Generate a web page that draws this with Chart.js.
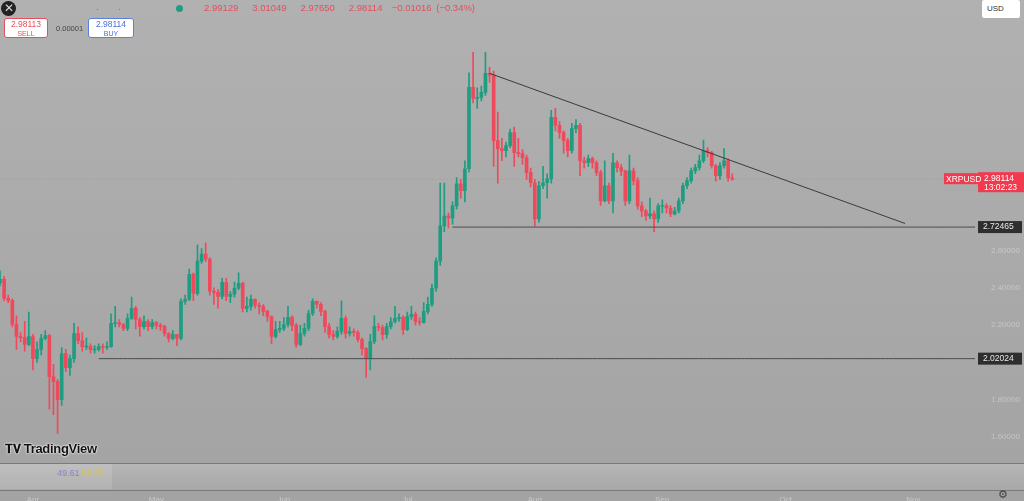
<!DOCTYPE html>
<html><head><meta charset="utf-8">
<script src="https://cdn.jsdelivr.net/npm/chart.js@4"></script>
<style>
html,body{margin:0;padding:0;width:1024px;height:501px;overflow:hidden;font-family:"Liberation Sans",Arial,sans-serif}
body{background:linear-gradient(#b1b1b1,#a3a3a3)}
#wrap{position:absolute;left:0;top:0;width:1024px;height:501px}
.ov{position:absolute;white-space:nowrap}
</style></head><body>
<div id="wrap"><canvas id="c" width="1024" height="501"></canvas></div>
<div class="ov" style="left:1px;top:1px;width:15px;height:15px;border-radius:50%;background:#222;color:#ddd;font-size:12px;line-height:15px;text-align:center">✕</div>
<div class="ov" style="left:176px;top:5px;width:7px;height:7px;border-radius:50%;background:#1e9d81"></div>
<div class="ov" style="left:96px;top:4px;color:#777;font-size:9px">·</div>
<div class="ov" style="left:118px;top:4px;color:#777;font-size:9px">·</div>
<div class="ov" style="left:204px;top:2px;color:#e84d5d;font-size:9.5px;word-spacing:2px">2.99129&nbsp;&nbsp;&nbsp;3.01049&nbsp;&nbsp;&nbsp;2.97650&nbsp;&nbsp;&nbsp;2.98114&nbsp;&nbsp;−0.01016 (−0.34%)</div>
<div class="ov" style="left:4px;top:18px;width:44px;height:20px;border:1px solid #e84d5d;border-radius:3px;background:#fff;text-align:center;line-height:9px;font-size:8.5px;color:#e84d5d;padding-top:1px;box-sizing:border-box">2.98113<br><span style="font-size:7px">SELL</span></div>
<div class="ov" style="left:56px;top:24px;color:#444;font-size:7.5px">0.00001</div>
<div class="ov" style="left:88px;top:18px;width:46px;height:20px;border:1px solid #5b7fe0;border-radius:3px;background:#fff;text-align:center;line-height:9px;font-size:8.5px;color:#4a6fd8;padding-top:1px;box-sizing:border-box">2.98114<br><span style="font-size:7px">BUY</span></div>
<div class="ov" style="left:982px;top:0px;width:38px;height:18px;background:#fff;border-radius:2px;font-size:8px;color:#333;line-height:18px;padding-left:5px;box-sizing:border-box">USD</div>
<div class="ov" style="left:5px;top:441px;font-size:13px;font-weight:bold;color:#111;letter-spacing:-0.3px;text-shadow:0 0 2px #fff,0 0 2px #fff"><span style="font-size:12px">𝐓𝐕</span> TradingView</div>
<div class="ov" style="left:0;top:463px;width:1024px;height:26px;background:linear-gradient(#b6b6b6,#a8a8a8);border-top:1px solid #7a7a7a;border-bottom:1px solid #7a7a7a"></div>
<div class="ov" style="left:0;top:464px;width:112px;height:25px;background:rgba(255,255,255,0.12)"></div>
<div class="ov" style="left:57px;top:468px;font-size:9px;color:#8a86c8">49.61 <span style="color:#d8c45a">54.09</span></div>
<div class="ov" style="left:998px;top:488px;font-size:11px;color:#444">⚙</div>
<script>
const categoriesCount = 238;
const monthTicks = {8:'Apr',38:'May',69:'Jun',99:'Jul',130:'Aug',161:'Sep',191:'Oct',222:'Nov'};
const firstOpen = 2.424;
const closes = [2.445,2.343,2.332,2.203,2.139,2.133,2.096,2.139,2.020,2.069,2.128,2.144,1.924,1.897,1.800,2.047,1.972,2.020,2.155,2.117,
2.085,2.085,2.069,2.069,2.085,2.080,2.085,2.209,2.214,2.203,2.182,2.236,2.289,2.230,2.192,2.219,2.192,2.214,2.198,2.192,
2.155,2.128,2.149,2.128,2.327,2.338,2.472,2.370,2.542,2.580,2.553,2.381,2.375,2.354,2.429,2.354,2.365,2.397,2.424,2.289,
2.300,2.338,2.306,2.300,2.273,2.246,2.139,2.176,2.182,2.203,2.241,2.198,2.096,2.155,2.182,2.262,2.327,2.311,2.273,2.192,
2.149,2.139,2.166,2.236,2.155,2.166,2.160,2.123,2.074,2.020,2.112,2.192,2.187,2.149,2.192,2.219,2.236,2.241,2.176,2.246,
2.257,2.219,2.214,2.273,2.311,2.397,2.542,2.731,2.784,2.774,2.838,2.956,2.919,3.037,3.473,3.414,3.419,3.446,3.548,3.538,
3.188,3.145,3.134,3.161,3.231,3.123,3.118,3.096,3.016,2.962,2.768,2.946,2.962,2.983,3.312,3.269,3.231,3.188,3.134,3.252,
3.269,3.080,3.069,3.091,3.069,3.016,2.865,2.946,2.865,3.069,3.043,3.026,2.865,3.026,2.973,2.838,2.811,2.784,2.795,2.768,
2.838,2.838,2.827,2.795,2.811,2.865,2.946,2.973,3.026,3.043,3.080,3.134,3.123,3.053,3.000,3.053,3.080,2.989,2.981];
const highs = [2.49,2.46,2.36,2.34,2.25,2.16,2.22,2.27,2.15,2.11,2.15,2.17,2.15,1.99,1.91,2.08,2.07,2.04,2.21,2.19,
2.16,2.13,2.10,2.09,2.10,2.10,2.11,2.26,2.30,2.23,2.21,2.26,2.35,2.30,2.24,2.25,2.23,2.23,2.22,2.21,
2.20,2.16,2.17,2.15,2.34,2.36,2.50,2.48,2.63,2.61,2.64,2.56,2.40,2.39,2.45,2.45,2.38,2.43,2.48,2.43,
2.35,2.36,2.34,2.32,2.31,2.28,2.25,2.22,2.22,2.24,2.30,2.25,2.21,2.20,2.21,2.28,2.34,2.33,2.32,2.28,
2.21,2.17,2.19,2.33,2.25,2.19,2.18,2.17,2.13,2.08,2.15,2.25,2.21,2.20,2.21,2.24,2.30,2.26,2.25,2.27,
2.30,2.27,2.24,2.32,2.35,2.42,2.56,2.96,2.96,2.80,2.86,2.99,2.98,3.08,3.55,3.66,3.47,3.48,3.66,3.58,
3.56,3.34,3.20,3.18,3.25,3.26,3.20,3.14,3.11,3.04,2.98,2.97,3.05,3.01,3.35,3.36,3.29,3.24,3.20,3.28,
3.30,3.28,3.10,3.11,3.10,3.08,3.03,3.08,2.96,3.12,3.08,3.06,3.03,3.11,3.04,2.99,2.86,2.82,2.88,2.81,
2.85,2.87,2.85,2.84,2.83,2.88,2.96,2.99,3.04,3.06,3.11,3.19,3.15,3.13,3.06,3.07,3.145,3.09,3.01];
const lows = [2.41,2.33,2.32,2.19,2.07,2.11,2.06,2.09,1.96,2.00,2.04,2.12,1.75,1.72,1.62,1.77,1.95,1.93,2.00,2.10,
2.06,2.07,2.05,2.05,2.06,2.05,2.07,2.08,2.19,2.19,2.17,2.17,2.23,2.18,2.14,2.18,2.17,2.18,2.18,2.17,
2.14,2.11,2.12,2.09,2.12,2.31,2.33,2.33,2.36,2.53,2.54,2.36,2.31,2.29,2.34,2.33,2.32,2.35,2.39,2.27,
2.27,2.28,2.29,2.26,2.25,2.22,2.10,2.13,2.16,2.17,2.19,2.17,2.08,2.09,2.14,2.17,2.25,2.29,2.25,2.16,
2.13,2.12,2.13,2.15,2.13,2.14,2.14,2.11,2.04,1.92,1.96,2.10,2.17,2.12,2.13,2.18,2.21,2.22,2.15,2.17,
2.23,2.20,2.20,2.21,2.26,2.30,2.38,2.52,2.70,2.72,2.74,2.82,2.88,2.86,3.02,3.39,3.36,3.40,3.43,3.50,
3.05,2.96,3.08,3.10,3.15,3.05,3.10,3.06,2.98,2.94,2.73,2.75,2.93,2.88,2.96,3.24,3.20,3.12,3.10,3.12,
3.23,3.00,3.04,3.05,3.04,3.00,2.84,2.86,2.85,2.80,3.02,3.00,2.84,2.85,2.95,2.82,2.78,2.76,2.77,2.70,
2.75,2.80,2.80,2.78,2.79,2.80,2.85,2.93,2.96,3.01,3.03,3.07,3.10,3.04,2.97,2.98,3.04,2.97,2.976];
const lastPrice = 2.98114;
const supportHigh = 2.72465, supportLow = 2.02024;
const supportHighStart = 110, supportLowStart = 24;
const trendStart = [119, 3.548], trendEnd = [220, 2.744];
const yTicks = [1.6,1.8,2.2,2.4,2.6];

const labels = Array.from({length:categoriesCount},(_,i)=>i);
const opens = closes.map((c,i)=> i===0 ? firstOpen : closes[i-1]);
const UP='#1e9d81', DN='#ef4a5c';
const col = closes.map((c,i)=> c>=opens[i]?UP:DN);
const wick = closes.map((c,i)=>[lows[i],highs[i]]);
const body = closes.map((c,i)=>{let a=Math.min(c,opens[i]),b=Math.max(c,opens[i]); if(b-a<0.004){a-=0.002;b+=0.002;} return [a,b];});
const seg=(from,to,v)=>labels.map(i=> i>=from&&i<=to? v:null);
const trend = labels.map(i=> i===trendStart[0]?trendStart[1]: i===trendEnd[0]?trendEnd[1]:null);

const labelsPlugin={id:'priceLabels',afterDraw(ch){
 const ctx=ch.ctx, y=ch.scales.y, a=ch.chartArea;
 const box=(v,txt,bg,fg,h)=>{const py=y.getPixelForValue(v);ctx.fillStyle=bg;ctx.fillRect(a.right+3,py-6,44,h);ctx.fillStyle=fg;ctx.font='8.5px "Liberation Sans"';ctx.textAlign='left';ctx.textBaseline='middle';ctx.fillText(txt,a.right+8,py);};
 box(supportHigh,'2.72465','#2e2e2e','#e8e8e8',12);
 box(supportLow,'2.02024','#2e2e2e','#e8e8e8',12);
 const py=y.getPixelForValue(lastPrice);
 ctx.fillStyle='#f23a4e';ctx.fillRect(a.right+3,py-7,46,20);
 ctx.fillStyle='#fff';ctx.font='8.5px "Liberation Sans"';ctx.textBaseline='middle';
 ctx.fillText('2.98114',a.right+9,py-1);ctx.fillText('13:02:23',a.right+9,py+8);
 ctx.fillStyle='#f23a4e';ctx.fillRect(a.right-31,py-6,34,11);
 ctx.fillStyle='#fff';ctx.fillText('XRPUSD',a.right-29,py);
}};

new Chart(document.getElementById('c'),{
 data:{labels,datasets:[
  {type:'line',data:seg(0,categoriesCount-1,lastPrice),borderColor:'rgba(240,80,90,0.45)',borderWidth:0.7,borderDash:[1,2],pointRadius:0,order:5},
  {type:'line',data:seg(supportHighStart,categoriesCount-1,supportHigh),borderColor:'#4a4a4a',borderWidth:1,pointRadius:0,order:1},
  {type:'line',data:seg(supportLowStart,categoriesCount-1,supportLow),borderColor:'#4a4a4a',borderWidth:1,pointRadius:0,order:1},
  {type:'line',data:trend,spanGaps:true,borderColor:'#3a3a3a',borderWidth:1,pointRadius:0,order:1},
  {type:'bar',data:wick,backgroundColor:col,barThickness:1,grouped:false,order:3},
  {type:'bar',data:body,backgroundColor:col,barThickness:3,grouped:false,order:2}
 ]},
 options:{responsive:false,animation:false,events:[],
  layout:{padding:{top:0,bottom:0,left:0,right:0}},
  plugins:{legend:{display:false},tooltip:{enabled:false}},
  scales:{
   x:{type:'category',offset:false,grid:{display:false},border:{display:false},
      ticks:{autoSkip:false,maxRotation:0,padding:0,color:'rgba(255,255,255,0.4)',font:{size:8,family:'Liberation Sans'},callback:(v,i)=>monthTicks[i]||''},
      afterFit(s){s.height=14;}},
   y:{position:'right',min:1.333,max:3.872,grid:{display:false},border:{display:false},
      afterBuildTicks(s){s.ticks=yTicks.map(v=>({value:v}));},
      ticks:{color:'rgba(255,255,255,0.35)',font:{size:8,family:'Liberation Sans'},padding:8,callback:v=>v.toFixed(5)},
      afterFit(s){s.width=49;}}
  }},
 plugins:[labelsPlugin]
});
</script></body></html>
